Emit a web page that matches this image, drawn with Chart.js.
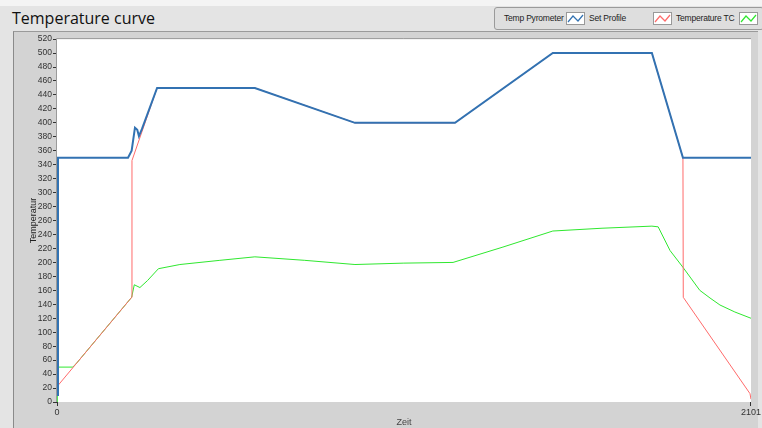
<!DOCTYPE html>
<html>
<head>
<meta charset="utf-8">
<script src="https://cdn.jsdelivr.net/npm/chart.js@4/dist/chart.umd.min.js"></script>
<style>
    html, body { margin: 0; padding: 0; }
    body { width: 762px; height: 428px; background: #e4e4e4; position: relative; overflow: hidden; font-family: "Liberation Sans", Arial, sans-serif; }
    #topband { position: absolute; left: 0; top: 0; width: 762px; height: 6px; background: #f4f4f4; }
    #title { position: absolute; left: 12px; top: 7px; font-family: "Open Sans", "Noto Sans", sans-serif; font-size: 16px; color: #111; }
    #panel { position: absolute; left: 13px; top: 31px; width: 744px; height: 400px; background: #d3d3d3; border-left: 1px solid #8a8a8a; border-top: 1px solid #9a9a9a; }
    #wrap { position: absolute; left: 14px; top: 33px; width: 748px; height: 395px; }
    #legend { position: absolute; left: 494px; top: 7px; width: 268px; height: 21px; background: #dedede; border: 1px solid #9a9a9a; border-radius: 3px; font-size: 8.5px; letter-spacing: -0.2px; color: #222; }
    #legend span { position: absolute; top: 5px; white-space: nowrap; }
    #legend svg { position: absolute; top: 4px; }
</style>
</head>
<body>
<div id="topband"></div>
<div id="title">Temperature curve</div>
<div id="legend"></div>
<div id="panel"></div>
<div id="wrap"><canvas id="chart"></canvas></div>
<script>
// Temp Pyrometer (blue)
var pyroTime = [0, 3, 215, 226, 236, 243, 248, 257, 303, 599, 902, 1205, 1501, 1801, 1895, 2101]
var pyroTemp = [10, 350, 350, 360, 393, 390, 381, 391, 450, 450, 400, 400, 500, 500, 350, 350]
// Set Profile (red)
var setTime = [0, 226, 227, 303, 599, 902, 1205, 1501, 1801, 1895, 1896, 2098, 2101]
var setTemp = [22, 150, 346, 450, 450, 400, 400, 500, 500, 350, 150, 12, 4]
// Temperature TC (green)
var tcTime = [0, 1, 48, 60, 120, 226, 234, 251, 274, 307, 372, 493, 599, 750, 902, 1050, 1199, 1350, 1501, 1650, 1801, 1820, 1856, 1895, 1946, 1977, 2007, 2052, 2101]
var tcTemp = [0, 50, 50, 56, 90, 150, 168, 164, 174, 191, 197, 203, 208, 203, 197, 199, 200, 222, 245, 249, 252, 251, 217, 193, 160, 149, 139, 129, 120]

var xTicks = [0, 2101]
var yMin = 0, yMax = 520, yStep = 20

var seriesNames = ["Temp Pyrometer", "Set Profile", "Temperature TC"]
var seriesColors = ["#3272b2", "#ff6b6b", "#2fe82f"]

function toPoints(xs, ys) {
    var pts = []
    for (var i = 0; i < xs.length; i++) {
        pts.push({ x: xs[i], y: ys[i] })
    }
    return pts
}

// legend: label then little plot icon, like the LabVIEW legend
var legend = document.getElementById('legend')
var textLeft = [9, 94, 181]
var iconLeft = [71, 158, 244]
for (var i = 0; i < seriesNames.length; i++) {
    var s = document.createElement('span')
    s.textContent = seriesNames[i]
    s.style.left = textLeft[i] + 'px'
    legend.appendChild(s)
    var ns = 'http://www.w3.org/2000/svg'
    var svg = document.createElementNS(ns, 'svg')
    svg.setAttribute('width', 19)
    svg.setAttribute('height', 13)
    svg.style.left = iconLeft[i] + 'px'
    var r = document.createElementNS(ns, 'rect')
    r.setAttribute('x', 0.5); r.setAttribute('y', 0.5)
    r.setAttribute('width', 18); r.setAttribute('height', 12)
    r.setAttribute('fill', '#fff'); r.setAttribute('stroke', '#999')
    svg.appendChild(r)
    var p = document.createElementNS(ns, 'polyline')
    p.setAttribute('points', '2,10 7,4 12,9 17,3')
    p.setAttribute('fill', 'none')
    p.setAttribute('stroke', seriesColors[i])
    p.setAttribute('stroke-width', 1.2)
    svg.appendChild(p)
    legend.appendChild(svg)
}

var plotBg = {
    id: 'plotBg',
    beforeDraw: function (chart) {
        var a = chart.chartArea, ctx = chart.ctx
        ctx.save()
        ctx.fillStyle = '#ffffff'
        ctx.fillRect(a.left, a.top, a.right - a.left, a.bottom - a.top)
        ctx.restore()
    },
    afterDraw: function (chart) {
        var a = chart.chartArea, ctx = chart.ctx
        ctx.save()
        ctx.strokeStyle = '#9a9a9a'
        ctx.lineWidth = 1
        ctx.beginPath()
        ctx.moveTo(a.left - 0.5, a.bottom)
        ctx.lineTo(a.left - 0.5, a.top - 0.5)
        ctx.lineTo(a.right, a.top - 0.5)
        ctx.stroke()
        ctx.restore()
    }
}

var ctx = document.getElementById('chart').getContext('2d')
var myChart = new Chart(ctx, {
    type: 'line',
    data: {
        datasets: [{
            label: seriesNames[0],
            data: toPoints(pyroTime, pyroTemp),
            borderColor: seriesColors[0],
            borderWidth: 2,
            pointRadius: 0,
            tension: 0
        }, {
            label: seriesNames[1],
            data: toPoints(setTime, setTemp),
            borderColor: seriesColors[1],
            borderWidth: 1,
            pointRadius: 0,
            tension: 0
        }, {
            label: seriesNames[2],
            data: toPoints(tcTime, tcTemp),
            borderColor: seriesColors[2],
            borderWidth: 1,
            pointRadius: 0,
            tension: 0
        }]
    },
    options: {
        responsive: true,
        maintainAspectRatio: false,
        animation: false,
        layout: { padding: { top: 5, right: 0, left: 14, bottom: 0 } },
        plugins: {
            legend: { display: false },
            tooltip: { enabled: false }
        },
        scales: {
            x: {
                type: 'linear',
                min: xTicks[0],
                max: xTicks[xTicks.length - 1],
                afterBuildTicks: function (scale) {
                    scale.ticks = xTicks.map(function (v) { return { value: v } })
                },
                afterFit: function (scale) { scale.height = 26 },
                grid: { drawOnChartArea: false, tickLength: 4, color: '#333' },
                border: { display: false },
                ticks: {
                    autoSkip: false,
                    maxRotation: 0,
                    padding: 1,
                    color: '#333',
                    font: { family: 'Liberation Sans', size: 9 },
                    callback: function (v) { return String(v) }
                },
                title: {
                    display: true,
                    text: 'Zeit',
                    color: '#444',
                    padding: 0,
                    font: { family: 'Liberation Sans', size: 9 }
                }
            },
            y: {
                min: yMin,
                max: yMax,
                afterFit: function (scale) { scale.width = 29 },
                grid: { drawOnChartArea: false, tickLength: 4, color: '#333' },
                border: { display: false },
                ticks: {
                    stepSize: yStep,
                    padding: 1,
                    color: '#333',
                    font: { family: 'Liberation Sans', size: 8.5 }
                },
                title: {
                    display: true,
                    text: 'Temperatur',
                    color: '#222',
                    padding: 0,
                    font: { family: 'Liberation Sans', size: 9 }
                }
            }
        }
    },
    plugins: [plotBg]
})
</script>
</body>
</html>
